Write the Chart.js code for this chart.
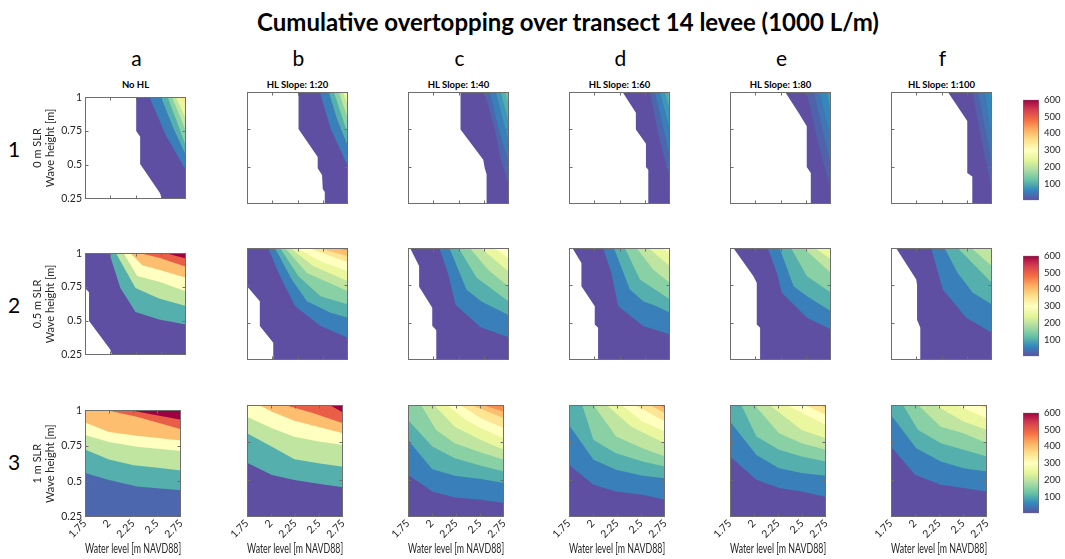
<!DOCTYPE html>
<html>
<head>
<meta charset="utf-8">
<script src="https://cdn.jsdelivr.net/npm/chart.js@4.4.1/dist/chart.umd.min.js"></script>
<style>
  body { margin: 0; width: 1065px; height: 559px; background: #fff; position: relative; overflow: hidden; font-family: Lato, "Open Sans", sans-serif; }
  canvas { position: absolute; }
  .txt { position: absolute; white-space: nowrap; transform: translate(-50%, -50%); color: #000; }
</style>
</head>
<body>
<script>
// ---- text / ticks ----
const letters = ['a', 'b', 'c', 'd', 'e', 'f'];
const hlTitles = ['No HL', 'HL Slope: 1:20', 'HL Slope: 1:40', 'HL Slope: 1:60', 'HL Slope: 1:80', 'HL Slope: 1:100'];
const rowNames = ['1', '2', '3'];
const slrNames = ['0 m SLR', '0.5 m SLR', '1 m SLR'];
const waterTicks = [1.75, 2, 2.25, 2.5, 2.75];
const waveTicks = [0.25, 0.5, 0.75, 1];
const cbTicks = [100, 200, 300, 400, 500, 600];
const cbMax = 600;

// ---- contour levels (L/m) and their boundaries [water level, wave height] ----
// row 1 : 0 m SLR
const levels1a = [0, 50, 100, 150, 200, 250, 350];
const edges1a = [
  [[2.257, 1], [2.257, 0.75], [2.296, 0.708], [2.296, 0.506], [2.493, 0.29], [2.51, 0.25]],
  [[2.388, 1], [2.55, 0.72], [2.75, 0.46]],
  [[2.503, 1], [2.62, 0.78], [2.75, 0.57]],
  [[2.569, 1], [2.66, 0.82], [2.75, 0.636]],
  [[2.612, 1], [2.75, 0.75]],
  [[2.65, 1], [2.75, 0.84]],
  [[2.70, 1], [2.75, 0.93]]
];
const levels1b = [0, 50, 100, 150, 200, 250];
const edges1b = [
  [[2.26, 1], [2.26, 0.753], [2.45, 0.564], [2.45, 0.49], [2.493, 0.445], [2.50, 0.35], [2.52, 0.33], [2.52, 0.25]],
  [[2.47, 1], [2.58, 0.75], [2.75, 0.5]],
  [[2.56, 1], [2.643, 0.816], [2.75, 0.636]],
  [[2.61, 1], [2.75, 0.715]],
  [[2.66, 1], [2.75, 0.816]],
  [[2.70, 1], [2.75, 0.906]]
];
const levels1c = [0, 25, 50, 75, 100, 125];
const edges1c = [
  [[2.27, 1], [2.27, 0.749], [2.495, 0.546], [2.51, 0.49], [2.528, 0.45], [2.528, 0.25]],
  [[2.505, 1], [2.61, 0.75], [2.66, 0.57], [2.75, 0.37]],
  [[2.56, 1], [2.66, 0.72], [2.75, 0.524]],
  [[2.62, 1], [2.75, 0.66]],
  [[2.67, 1], [2.75, 0.79]],
  [[2.71, 1], [2.75, 0.906]]
];
const levels1d = [0, 25, 50, 75, 100];
const edges1d = [
  [[2.28, 1], [2.412, 0.861], [2.412, 0.749], [2.512, 0.654], [2.512, 0.497], [2.535, 0.48], [2.535, 0.25]],
  [[2.55, 1], [2.64, 0.7], [2.75, 0.42]],
  [[2.60, 1], [2.75, 0.57]],
  [[2.65, 1], [2.75, 0.75]],
  [[2.70, 1], [2.75, 0.88]]
];
const levels1e = [0, 20, 40, 60, 80];
const edges1e = [
  [[2.296, 1], [2.43, 0.86], [2.51, 0.77], [2.51, 0.497], [2.55, 0.457], [2.55, 0.25]],
  [[2.51, 1], [2.62, 0.66], [2.75, 0.344]],
  [[2.58, 1], [2.75, 0.50]],
  [[2.64, 1], [2.75, 0.68]],
  [[2.71, 1], [2.75, 0.86]]
];
const levels1f = [0, 20, 40, 60, 80];
const edges1f = [
  [[2.313, 1], [2.505, 0.805], [2.505, 0.457], [2.555, 0.434], [2.555, 0.25]],
  [[2.555, 1], [2.65, 0.66], [2.75, 0.344]],
  [[2.61, 1], [2.75, 0.52]],
  [[2.68, 1], [2.75, 0.70]],
  [[2.73, 1], [2.75, 0.88]]
];
// row 2 : 0.5 m SLR
const levels2a = [0, 100, 200, 300, 400, 500, 600];
const edges2a = [
  [[1.75, 0.744], [1.79, 0.711], [1.79, 0.499], [2.0, 0.288], [2.017, 0.25]],
  [[1.99, 1], [2.10, 0.744], [2.25, 0.566], [2.483, 0.51], [2.75, 0.473]],
  [[2.057, 1], [2.25, 0.744], [2.483, 0.666], [2.75, 0.61]],
  [[2.133, 1], [2.267, 0.833], [2.483, 0.789], [2.75, 0.72]],
  [[2.2, 1], [2.317, 0.911], [2.483, 0.878], [2.75, 0.82]],
  [[2.3, 1], [2.483, 0.967], [2.75, 0.9]],
  [[2.55, 1], [2.75, 0.962]]
];
const levels2b = [0, 50, 100, 150, 200, 250, 300, 350, 400, 450];
const edges2b = [
  [[1.75, 0.744], [1.877, 0.644], [1.877, 0.477], [2.01, 0.366], [2.01, 0.25]],
  [[1.96, 1], [2.077, 0.811], [2.227, 0.61], [2.477, 0.477], [2.75, 0.399]],
  [[2.027, 1], [2.193, 0.789], [2.343, 0.644], [2.577, 0.566], [2.75, 0.533]],
  [[2.077, 1], [2.26, 0.811], [2.477, 0.677], [2.75, 0.622]],
  [[2.127, 1], [2.343, 0.833], [2.75, 0.711]],
  [[2.177, 1], [2.41, 0.878], [2.75, 0.777]],
  [[2.243, 1], [2.477, 0.911], [2.75, 0.844]],
  [[2.36, 1], [2.75, 0.904]],
  [[2.46, 1], [2.75, 0.944]],
  [[2.61, 1], [2.75, 0.984]]
];
const levels2c = [0, 50, 100, 150, 200, 250, 300, 350];
const edges2c = [
  [[1.77, 1], [1.86, 0.88], [1.86, 0.74], [1.99, 0.6], [1.99, 0.48], [2.03, 0.45], [2.03, 0.25]],
  [[2.06, 1], [2.15, 0.82], [2.22, 0.62], [2.47, 0.47], [2.75, 0.4]],
  [[2.16, 1], [2.33, 0.72], [2.48, 0.64], [2.75, 0.55]],
  [[2.25, 1], [2.43, 0.8], [2.75, 0.64]],
  [[2.36, 1], [2.55, 0.85], [2.75, 0.74]],
  [[2.47, 1], [2.75, 0.84]],
  [[2.6, 1], [2.75, 0.93]],
  [[2.72, 1], [2.75, 0.98]]
];
const levels2d = [0, 50, 100, 150, 200, 250, 300];
const edges2d = [
  [[1.783, 1], [1.873, 0.9], [1.873, 0.744], [2.005, 0.61], [2.005, 0.488], [2.038, 0.466], [2.038, 0.25]],
  [[2.088, 1], [2.17, 0.833], [2.237, 0.61], [2.485, 0.477], [2.75, 0.421]],
  [[2.194, 1], [2.353, 0.722], [2.485, 0.644], [2.617, 0.61], [2.75, 0.566]],
  [[2.303, 1], [2.452, 0.789], [2.75, 0.655]],
  [[2.419, 1], [2.585, 0.855], [2.75, 0.766]],
  [[2.535, 1], [2.75, 0.878]],
  [[2.667, 1], [2.75, 0.967]]
];
const levels2e = [0, 50, 100, 150, 200, 250];
const edges2e = [
  [[1.783, 1], [1.982, 0.811], [2.015, 0.766], [2.015, 0.488], [2.048, 0.466], [2.048, 0.25]],
  [[2.124, 1], [2.214, 0.833], [2.263, 0.7], [2.512, 0.533], [2.75, 0.455]],
  [[2.24, 1], [2.38, 0.744], [2.512, 0.677], [2.75, 0.577]],
  [[2.353, 1], [2.512, 0.811], [2.75, 0.7]],
  [[2.478, 1], [2.75, 0.833]],
  [[2.594, 1], [2.75, 0.922]]
];
const levels2f = [0, 50, 100, 150, 200];
const edges2f = [
  [[1.8, 1], [2.0, 0.789], [2.008, 0.75], [2.008, 0.52], [2.04, 0.466], [2.04, 0.25]],
  [[2.147, 1], [2.263, 0.722], [2.495, 0.533], [2.75, 0.432]],
  [[2.28, 1], [2.41, 0.833], [2.56, 0.7], [2.75, 0.622]],
  [[2.41, 1], [2.75, 0.766]],
  [[2.545, 1], [2.75, 0.878]]
];
// row 3 : 1 m SLR
const levels3a = [25, 100, 200, 300, 400, 500, 600];
const edges3a = [
  [[1.75, 0.25], [2.75, 0.25]],
  [[1.75, 0.56], [2.0, 0.51], [2.29, 0.464], [2.75, 0.4375]],
  [[1.75, 0.725], [2.0, 0.654], [2.257, 0.614], [2.487, 0.598], [2.75, 0.576]],
  [[1.75, 0.826], [2.0, 0.777], [2.29, 0.743], [2.75, 0.714]],
  [[1.75, 0.915], [2.0, 0.848], [2.29, 0.821], [2.75, 0.788]],
  [[1.977, 1], [2.29, 0.955], [2.75, 0.866]],
  [[2.22, 1], [2.454, 0.971], [2.75, 0.933]]
];
const levels3b = [0, 100, 200, 300, 400, 500, 600];
const edges3b = [
  [[1.75, 0.25], [2.75, 0.25]],
  [[1.75, 0.614], [2.01, 0.531], [2.243, 0.498], [2.51, 0.471], [2.75, 0.449]],
  [[1.75, 0.81], [2.01, 0.721], [2.243, 0.636], [2.51, 0.609], [2.75, 0.587]],
  [[1.75, 0.922], [2.01, 0.844], [2.243, 0.788], [2.51, 0.754], [2.75, 0.732]],
  [[1.877, 1], [2.01, 0.955], [2.243, 0.895], [2.75, 0.81]],
  [[2.143, 1], [2.443, 0.944], [2.75, 0.877]],
  [[2.61, 1], [2.75, 0.949]]
];
const levels3c = [0, 50, 100, 150, 200, 250, 300, 350, 400, 450, 500];
const edges3c = [
  [[1.75, 0.25], [2.75, 0.25]],
  [[1.75, 0.533], [2.003, 0.421], [2.236, 0.381], [2.509, 0.366], [2.75, 0.344]],
  [[1.75, 0.766], [2.003, 0.57], [2.236, 0.526], [2.509, 0.504], [2.75, 0.477]],
  [[1.75, 0.9], [2.003, 0.722], [2.236, 0.644], [2.509, 0.593], [2.75, 0.555]],
  [[1.886, 1], [2.042, 0.833], [2.236, 0.744], [2.509, 0.682], [2.75, 0.633]],
  [[2.022, 1], [2.236, 0.855], [2.509, 0.766], [2.75, 0.7]],
  [[2.159, 1], [2.353, 0.9], [2.509, 0.844], [2.75, 0.777]],
  [[2.295, 1], [2.509, 0.911], [2.75, 0.844]],
  [[2.411, 1], [2.75, 0.911]],
  [[2.528, 1], [2.75, 0.955]],
  [[2.664, 1], [2.75, 0.989]]
];
const levels3d = [0, 50, 100, 150, 200, 250, 300, 350, 400, 450];
const edges3d = [
  [[1.75, 0.25], [2.75, 0.25]],
  [[1.75, 0.6], [2.005, 0.466], [2.24, 0.421], [2.515, 0.399], [2.75, 0.366]],
  [[1.75, 0.866], [2.005, 0.633], [2.24, 0.566], [2.515, 0.526], [2.75, 0.51]],
  [[1.887, 1], [2.005, 0.766], [2.24, 0.677], [2.515, 0.622], [2.75, 0.588]],
  [[2.005, 1], [2.24, 0.789], [2.515, 0.711], [2.75, 0.655]],
  [[2.142, 1], [2.397, 0.855], [2.75, 0.744]],
  [[2.299, 1], [2.515, 0.889], [2.75, 0.822]],
  [[2.436, 1], [2.75, 0.889]],
  [[2.593, 1], [2.75, 0.944]],
  [[2.691, 1], [2.75, 0.978]]
];
const levels3e = [0, 50, 100, 150, 200, 250, 300, 350, 400];
const edges3e = [
  [[1.75, 0.25], [2.75, 0.25]],
  [[1.75, 0.655], [2.025, 0.5], [2.26, 0.444], [2.495, 0.421], [2.75, 0.384]],
  [[1.75, 0.889], [2.025, 0.666], [2.26, 0.577], [2.495, 0.544], [2.75, 0.526]],
  [[1.868, 1], [2.025, 0.789], [2.26, 0.7], [2.495, 0.655], [2.75, 0.622]],
  [[2.005, 1], [2.26, 0.811], [2.495, 0.744], [2.75, 0.7]],
  [[2.162, 1], [2.495, 0.833], [2.75, 0.777]],
  [[2.338, 1], [2.75, 0.866]],
  [[2.534, 1], [2.75, 0.933]],
  [[2.691, 1], [2.75, 0.978]]
];
const levels3f = [0, 50, 100, 150, 200, 250, 300, 350];
const edges3f = [
  [[1.75, 0.25], [2.75, 0.25]],
  [[1.75, 0.722], [2.0, 0.533], [2.268, 0.466], [2.503, 0.444], [2.75, 0.421]],
  [[1.75, 0.933], [2.013, 0.711], [2.268, 0.622], [2.503, 0.577], [2.75, 0.555]],
  [[1.875, 1], [2.032, 0.833], [2.268, 0.744], [2.503, 0.7], [2.75, 0.655]],
  [[2.032, 1], [2.268, 0.855], [2.503, 0.811], [2.75, 0.744]],
  [[2.209, 1], [2.503, 0.889], [2.75, 0.833]],
  [[2.425, 1], [2.75, 0.911]],
  [[2.66, 1], [2.75, 0.978]]
];

const panels = [
  [[levels1a, edges1a], [levels1b, edges1b], [levels1c, edges1c], [levels1d, edges1d], [levels1e, edges1e], [levels1f, edges1f]],
  [[levels2a, edges2a], [levels2b, edges2b], [levels2c, edges2c], [levels2d, edges2d], [levels2e, edges2e], [levels2f, edges2f]],
  [[levels3a, edges3a], [levels3b, edges3b], [levels3c, edges3c], [levels3d, edges3d], [levels3e, edges3e], [levels3f, edges3f]]
];

// ---- look ----
const FONT = 'Lato, "Open Sans", sans-serif';
const spectral = ['#5e4fa2', '#3288bd', '#66c2a5', '#abdda4', '#e6f598', '#ffffbf', '#fee08b', '#fdae61', '#f46d43', '#d53e4f', '#9e0142'];
const plotL = [85, 247, 408, 569, 730, 891];
const plotT = [92, 248, 405];
const plotW = 101, plotH = 112;
const PADL = 60;

function hexRgb(h) {
  return [1, 3, 5].map(i => parseInt(h.substr(i, 2), 16));
}
function cmap(t) {
  t = Math.max(0, Math.min(1, t));
  const n = spectral.length - 1;
  const i = Math.min(n - 1, Math.floor(t * n));
  const f = t * n - i;
  const a = hexRgb(spectral[i]), b = hexRgb(spectral[i + 1]);
  const c = a.map((v, k) => Math.round(v + (b[k] - v) * f));
  return `rgb(${c[0]},${c[1]},${c[2]})`;
}

// close a contour edge along the box (top-left corner / bottom-right corner)
function closeEdge(pts) {
  const out = pts.map(p => ({x: p[0], y: p[1]}));
  if (out[0].y === 1 && out[0].x > 1.75) out.unshift({x: 1.75, y: 1});
  const last = out[out.length - 1];
  if (last.y === 0.25 && last.x < 2.75) out.push({x: 2.75, y: 0.25});
  return out;
}

function addText(str, x, y, css) {
  const d = document.createElement('div');
  d.className = 'txt';
  d.textContent = str;
  d.style.left = x + 'px';
  d.style.top = y + 'px';
  Object.assign(d.style, css);
  document.body.appendChild(d);
}

// box + inward ticks, matlab style
const boxPlugin = {
  id: 'panelBox',
  afterDatasetsDraw(chart) {
    const {ctx, chartArea: a, scales} = chart;
    const L = Math.round(a.left) + 0.5, R = Math.round(a.right) - 0.5;
    const T = Math.round(a.top) + 0.5, B = Math.round(a.bottom) - 0.5;
    ctx.save();
    ctx.strokeStyle = '#6e6e6e';
    ctx.lineWidth = 1;
    ctx.beginPath();
    scales.x.ticks.slice(1, -1).forEach(t => {
      const p = Math.round(scales.x.getPixelForValue(t.value)) + 0.5;
      ctx.moveTo(p, B); ctx.lineTo(p, B - 3);
      ctx.moveTo(p, T); ctx.lineTo(p, T + 3);
    });
    scales.y.ticks.slice(1, -1).forEach(t => {
      const p = Math.round(scales.y.getPixelForValue(t.value)) + 0.5;
      ctx.moveTo(L, p); ctx.lineTo(L + 3, p);
      ctx.moveTo(R, p); ctx.lineTo(R - 3, p);
    });
    ctx.stroke();
    ctx.strokeRect(L, T, R - L, B - T);
    ctx.restore();
  }
};

function makePanel(r, c) {
  const [levels, edges] = panels[r][c];
  const xh = r === 2 ? 42 : 4;
  const cv = document.createElement('canvas');
  cv.width = PADL + plotW + 4;
  cv.height = 4 + plotH + xh;
  cv.style.left = (plotL[c] - PADL) + 'px';
  cv.style.top = (plotT[r] - 4) + 'px';
  document.body.appendChild(cv);

  const datasets = edges.map((e, i) => ({
    data: closeEdge(e),
    showLine: true,
    fill: 'end',
    borderWidth: 0,
    pointRadius: 0,
    pointHoverRadius: 0,
    pointHitRadius: 0,
    backgroundColor: cmap(levels[i] / cbMax),
    order: edges.length - i
  }));

  new Chart(cv, {
    type: 'scatter',
    data: {datasets},
    options: {
      responsive: false,
      animation: false,
      devicePixelRatio: 1,
      events: [],
      elements: {point: {radius: 0}},
      layout: {padding: {left: 0, right: 4, top: 4, bottom: 0}},
      plugins: {legend: {display: false}, tooltip: {enabled: false}},
      scales: {
        x: {
          type: 'linear', min: 1.75, max: 2.75,
          afterBuildTicks: s => { s.ticks = waterTicks.map(v => ({value: v})); },
          grid: {display: false, drawTicks: false}, border: {display: false},
          ticks: {display: r === 2, minRotation: 45, maxRotation: 45, padding: 0, color: '#262626',
                  font: {family: FONT, size: 10.5}, callback: v => String(v)},
          title: {display: r === 2, text: 'Water level [m NAVD88]', color: '#262626', font: {family: FONT, size: 12.5}, padding: {top: 0, bottom: 3}},
          afterFit: s => { s.height = xh; }
        },
        y: {
          type: 'linear', min: 0.25, max: 1,
          afterBuildTicks: s => { s.ticks = waveTicks.map(v => ({value: v})); },
          grid: {display: false, drawTicks: false}, border: {display: false},
          ticks: {display: c === 0, padding: 3, color: '#262626', font: {family: FONT, size: 10.5}, callback: v => String(v)},
          title: {display: c === 0, text: [slrNames[r], 'Wave height [m]'], color: '#262626', font: {family: FONT, size: 11}, padding: {top: 6, bottom: 0}},
          afterFit: s => { s.width = PADL; }
        }
      }
    },
    plugins: [boxPlugin]
  });
}

function makeColorbar(r) {
  const top = plotT[r] + 3, h = 110;
  const cv = document.createElement('canvas');
  cv.width = 16 + 30;
  cv.height = h + 12;
  cv.style.left = '1023px';
  cv.style.top = (top - 6) + 'px';
  document.body.appendChild(cv);
  new Chart(cv, {
    type: 'bar',
    data: {
      labels: [''],
      datasets: [{
        data: [[0, cbMax]],
        backgroundColor: ctx => {
          const ch = ctx.chart, a = ch.chartArea;
          if (!a) return spectral[0];
          const g = ch.ctx.createLinearGradient(0, a.bottom, 0, a.top);
          spectral.forEach((col, i) => g.addColorStop(i / (spectral.length - 1), col));
          return g;
        },
        borderColor: '#6e6e6e', borderWidth: 1, borderSkipped: false,
        barPercentage: 1, categoryPercentage: 1
      }]
    },
    options: {
      responsive: false, animation: false, devicePixelRatio: 1, events: [],
      layout: {padding: {left: 0, right: 0, top: 6, bottom: 6}},
      plugins: {legend: {display: false}, tooltip: {enabled: false}},
      scales: {
        x: {display: false},
        y: {
          position: 'right', min: 0, max: cbMax,
          afterBuildTicks: s => { s.ticks = cbTicks.map(v => ({value: v})); },
          grid: {display: false, drawTicks: false}, border: {display: false},
          ticks: {padding: 5, color: '#262626', font: {family: FONT, size: 9.5}},
          afterFit: s => { s.width = 30; }
        }
      }
    }
  });
}

// ---- page ----
addText('Cumulative overtopping over transect 14 levee (1000 L/m)', 568, 21, {fontWeight: 'bold', fontSize: '24px'});
letters.forEach((l, c) => addText(l, plotL[c] + plotW / 2 + 1, 57, {fontSize: '21px'}));
hlTitles.forEach((t, c) => addText(t, plotL[c] + plotW / 2, 84, {fontSize: '9.5px', fontWeight: 'bold'}));
rowNames.forEach((n, r) => addText(n, 14, plotT[r] + plotH / 2, {fontSize: '21px'}));

for (let r = 0; r < 3; r++) {
  for (let c = 0; c < 6; c++) makePanel(r, c);
  makeColorbar(r);
}
</script>
</body>
</html>
